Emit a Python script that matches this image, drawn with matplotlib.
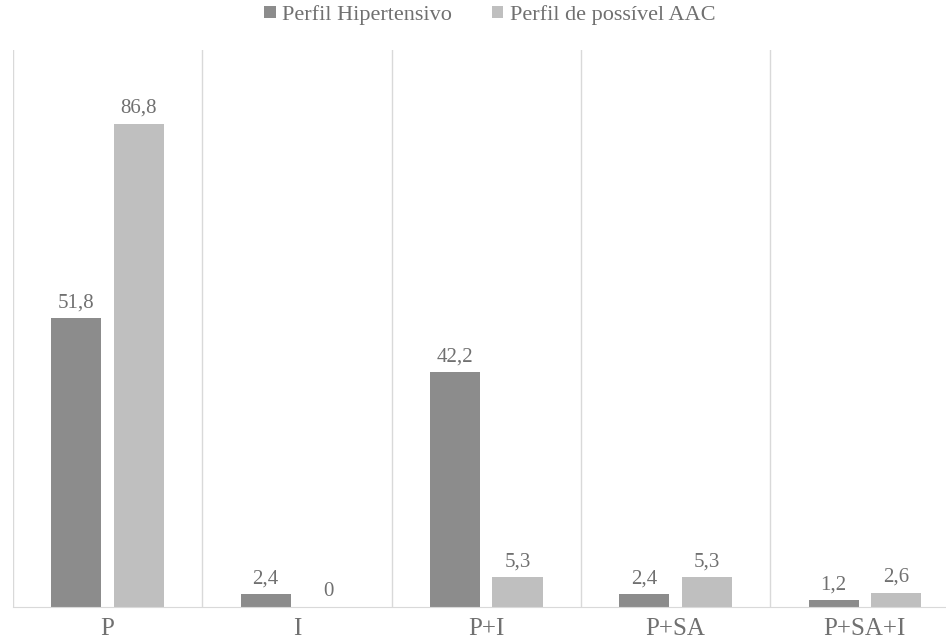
import matplotlib.pyplot as plt
import numpy as np

categories = ['P', 'I', 'P+I', 'P+SA', 'P+SA+I']
hipertensivo = [51.8, 2.4, 42.2, 2.4, 1.2]
possivel_aac = [86.8, 0, 5.3, 5.3, 2.6]
labels_hip = ['51,8', '2,4', '42,2', '2,4', '1,2']
labels_aac = ['86,8', '0', '5,3', '5,3', '2,6']

dark = '#8c8c8c'
light = '#bfbfbf'
text_col = '#707070'

plt.rcParams['font.family'] = ['Liberation Serif', 'DejaVu Serif']

fig = plt.figure(figsize=(9.46, 6.43), dpi=100)
# axes in pixel coords: left 13, category width ~189, baseline y=607, top y=50
ax = fig.add_axes([13 / 946, (643 - 607) / 643, 946.5 / 946, (607 - 50) / 643])

x = np.arange(len(categories))
w = 0.265
off = 0.165
b1 = ax.bar(x - off, hipertensivo, w, color=dark, label='Perfil Hipertensivo')
b2 = ax.bar(x + off, possivel_aac, w, color=light, label='Perfil de possível AAC')

for bars, labs in [(b1, labels_hip), (b2, labels_aac)]:
    for rect, lab in zip(bars, labs):
        ax.annotate(lab, (rect.get_x() + rect.get_width() / 2, rect.get_height()),
                    xytext=(0, 4), textcoords='offset points', ha='center', va='bottom',
                    fontsize=15, color=text_col)

# separators between categories
for s in np.arange(-0.5, len(categories) + 0.5, 1):
    ax.axvline(s, color='#d9d9d9', lw=1, zorder=0)

ax.set_xlim(-0.5, len(categories) - 0.5)
ax.set_ylim(0, 100)
ax.set_xticks(x)
ax.set_xticklabels(categories, fontsize=18, color=text_col)
ax.tick_params(axis='x', length=0, pad=8)
ax.set_yticks([])
for side in ['top', 'right', 'left']:
    ax.spines[side].set_visible(False)
ax.spines['bottom'].set_color('#d9d9d9')

fig.legend(loc='center', bbox_to_anchor=(490 / 946, 1 - 15 / 643), ncol=2, frameon=False,
           fontsize=16, labelcolor=text_col, handlelength=0.5, handleheight=0.5,
           handletextpad=0.3, columnspacing=1.8)

plt.savefig('out.png', dpi=100)
